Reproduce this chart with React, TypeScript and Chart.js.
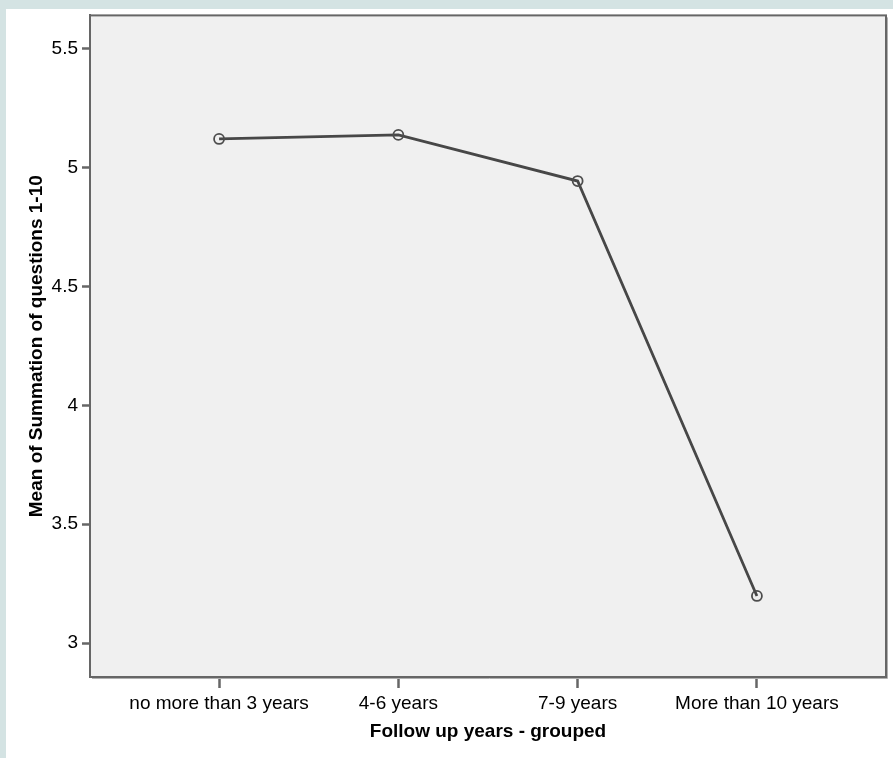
import React, { useEffect, useRef } from "react";
import { Chart, registerables } from "chart.js";

Chart.register(...registerables);

const categories = ["no more than 3 years", "4-6 years", "7-9 years", "More than 10 years"];
const means = [5.121, 5.138, 4.944, 3.198];
const yTickValues = [3, 3.5, 4, 4.5, 5, 5.5];
const xTitle = "Follow up years - grouped";
const yTitle = "Mean of Summation of questions 1-10";

const FONT = "'Liberation Sans', Arial, sans-serif";

const backgroundPlugin = {
  id: "bgPlugin",
  beforeDraw(chart: any) {
    const { ctx, width, height, chartArea } = chart;
    ctx.save();
    ctx.fillStyle = "#d4e3e3";
    ctx.fillRect(0, 0, width, height);
    ctx.fillStyle = "#ffffff";
    ctx.fillRect(6, 9, width - 6, height - 9);
    ctx.fillStyle = "#f0f0f0";
    ctx.fillRect(chartArea.left, chartArea.top, chartArea.right - chartArea.left, chartArea.bottom - chartArea.top);
    ctx.restore();
  },
  afterDraw(chart: any) {
    const { ctx, chartArea } = chart;
    const { left, top, right, bottom } = chartArea;
    ctx.save();
    ctx.strokeStyle = "#b0b0b0";
    ctx.lineWidth = 1;
    ctx.beginPath();
    ctx.moveTo(right + 1.5, top + 2);
    ctx.lineTo(right + 1.5, bottom + 1.5);
    ctx.lineTo(left + 2, bottom + 1.5);
    ctx.stroke();
    ctx.strokeStyle = "#666666";
    ctx.lineWidth = 2;
    ctx.strokeRect(left, top, right - left, bottom - top);
    ctx.restore();
  },
};

export default function App() {
  const canvasRef = useRef<HTMLCanvasElement | null>(null);

  useEffect(() => {
    if (!canvasRef.current) return;
    const chart = new Chart(canvasRef.current, {
      type: "line",
      data: {
        datasets: [
          {
            data: means.map((m, i) => ({ x: i, y: m })),
            borderColor: "#474747",
            borderWidth: 2.8,
            pointRadius: 5,
            pointBorderWidth: 1.8,
            pointBorderColor: "#4d4d4d",
            pointBackgroundColor: "rgba(0,0,0,0)",
            tension: 0,
            fill: false,
          },
        ],
      },
      options: {
        responsive: false,
        animation: false,
        devicePixelRatio: 1,
        layout: { padding: { top: 15, right: 7, left: 0, bottom: 0 } },
        plugins: { legend: { display: false }, tooltip: { enabled: false }, title: { display: false } },
        scales: {
          x: {
            type: "linear",
            min: -0.72,
            max: 3.72,
            afterBuildTicks: (scale: any) => {
              scale.ticks = categories.map((_, i) => ({ value: i }));
            },
            afterFit: (scale: any) => {
              scale.height = 81;
            },
            ticks: {
              autoSkip: false,
              maxRotation: 0,
              color: "#000000",
              padding: 4,
              font: { family: FONT, size: 19 },
              callback: (v: any) => categories[Math.round(Number(v))] ?? "",
            },
            grid: { drawOnChartArea: false, drawTicks: true, tickLength: 11, tickColor: "#666666", tickWidth: 2.5 },
            border: { display: true, color: "#666666", width: 2 },
            title: {
              display: true,
              text: xTitle,
              color: "#000000",
              font: { family: FONT, size: 19, weight: "bold" },
              padding: { top: 0, bottom: 15 },
            },
          },
          y: {
            type: "linear",
            min: 2.857,
            max: 5.641,
            afterBuildTicks: (scale: any) => {
              scale.ticks = yTickValues.map((v) => ({ value: v }));
            },
            afterFit: (scale: any) => {
              scale.width = 90;
            },
            ticks: {
              color: "#000000",
              padding: 4,
              font: { family: FONT, size: 19 },
              callback: (v: any) => String(v),
            },
            grid: { drawOnChartArea: false, drawTicks: true, tickLength: 8, tickColor: "#666666", tickWidth: 2.5 },
            border: { display: true, color: "#666666", width: 2 },
            title: {
              display: true,
              text: yTitle,
              color: "#000000",
              font: { family: FONT, size: 19, weight: "bold" },
              padding: { top: 25, bottom: 0 },
            },
          },
        },
      },
      plugins: [backgroundPlugin],
    } as any);
    return () => chart.destroy();
  }, []);

  return (
    <div style={{ position: "absolute", left: 0, top: 0, width: 893, height: 758 }}>
      <canvas ref={canvasRef} width={893} height={758} style={{ display: "block", width: 893, height: 758 }} />
    </div>
  );
}
